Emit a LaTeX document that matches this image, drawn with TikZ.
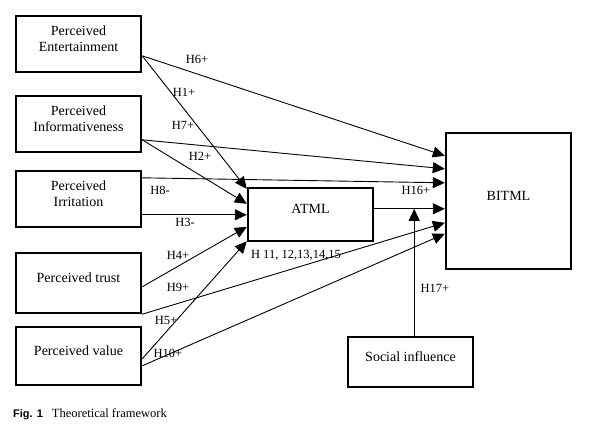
\documentclass[tikz,border=0pt]{standalone}
\usepackage{fontspec}
\setmainfont{Liberation Serif}
\setsansfont{Liberation Sans}
\usetikzlibrary{arrows.meta,calc}
\begin{document}
\begin{tikzpicture}[x=1pt,y=-1pt,
 box/.style={draw,line width=2.4pt,minimum width=125pt,align=center,inner sep=0pt,text depth=11pt,font=\fontsize{14}{16}\selectfont},
 hyp/.style={inner sep=0pt,font=\fontsize{12.5}{14}\selectfont},
 link/.style={line width=.9pt,-{Triangle[length=12pt,width=11pt]}}]
\useasboundingbox (0,0) rectangle (591,440);
\node[box,minimum height=56pt] (ent) at (78.5,44){Perceived\\Entertainment};
\node[box,minimum height=56pt] (inf) at (78.5,124){Perceived\\Informativeness};
\node[box,minimum height=56pt] (irr) at (78.5,199){Perceived\\Irritation};
\node[box,minimum height=60pt] (tru) at (78.5,283){Perceived trust};
\node[box,minimum height=58pt] (val) at (78.5,356){Perceived value};
\node[box,minimum height=53pt] (atml) at (310.5,214.5){ATML};
\node[box,minimum height=136pt] (bitml) at (508.5,201){BITML};
\node[box,minimum height=50pt] (soc) at (410.5,362){Social influence};
\draw[link] ($(ent.north east)+(0,41)$)--($(bitml.north west)+(0,24)$);
\draw[link] ($(ent.north east)+(0,41)$)--($(atml.north west)+(0,2)$);
\draw[link] ($(inf.north east)+(0,45)$)--($(bitml.north west)+(0,37)$);
\draw[link] ($(inf.north east)+(0,45)$)--($(atml.north west)+(0,17)$);
\draw[link] ($(irr.north east)+(0,8)$)--($(bitml.north west)+(0,51)$);
\draw[link] ($(irr.north east)+(0,45)$)--($(atml.north west)+(0,28)$);
\draw[link] ($(atml.north east)+(0,22)$)--($(bitml.north west)+(0,77)$);
\draw[link] ($(tru.north east)+(0,35)$)--($(atml.north west)+(0,40)$);
\draw[link] (tru.south east)--($(bitml.north west)+(0,91)$);
\draw[link] ($(val.north east)+(0,33)$)--($(atml.south west)+(0,-1)$);
\draw[link] ($(val.north east)+(0,40)$)--($(bitml.north west)+(0,102)$);
\coordinate (meet) at ($(atml.north east)+(40,22)$);
\draw[link] (soc.north -| meet)--(meet);
\foreach \n/\x/\y/\t in {h6/197/59/H6+,h1/184/92/H1+,h7/183/125/H7+,h2/200/156/H2+,h8/160/190/H8-,h3/185/222/H3-,h4/178/255/H4+,h9/178/287/H9+,h5/166/320/H5+,h10/168/353/H10+,h16/416/190/H16+,h17/435/288/H17+}{\node[hyp] (\n) at (\x,\y){\t};}
\node[hyp] (h11) at (296,255){H 11, 12,13,14,15};
\node[anchor=base west,inner sep=0pt,font=\fontsize{12.5}{14}\selectfont] (cap) at (13,417){{\sffamily\bfseries\fontsize{11}{13}\selectfont Fig. 1}\hspace{9pt}Theoretical framework};
\end{tikzpicture}
\end{document}
